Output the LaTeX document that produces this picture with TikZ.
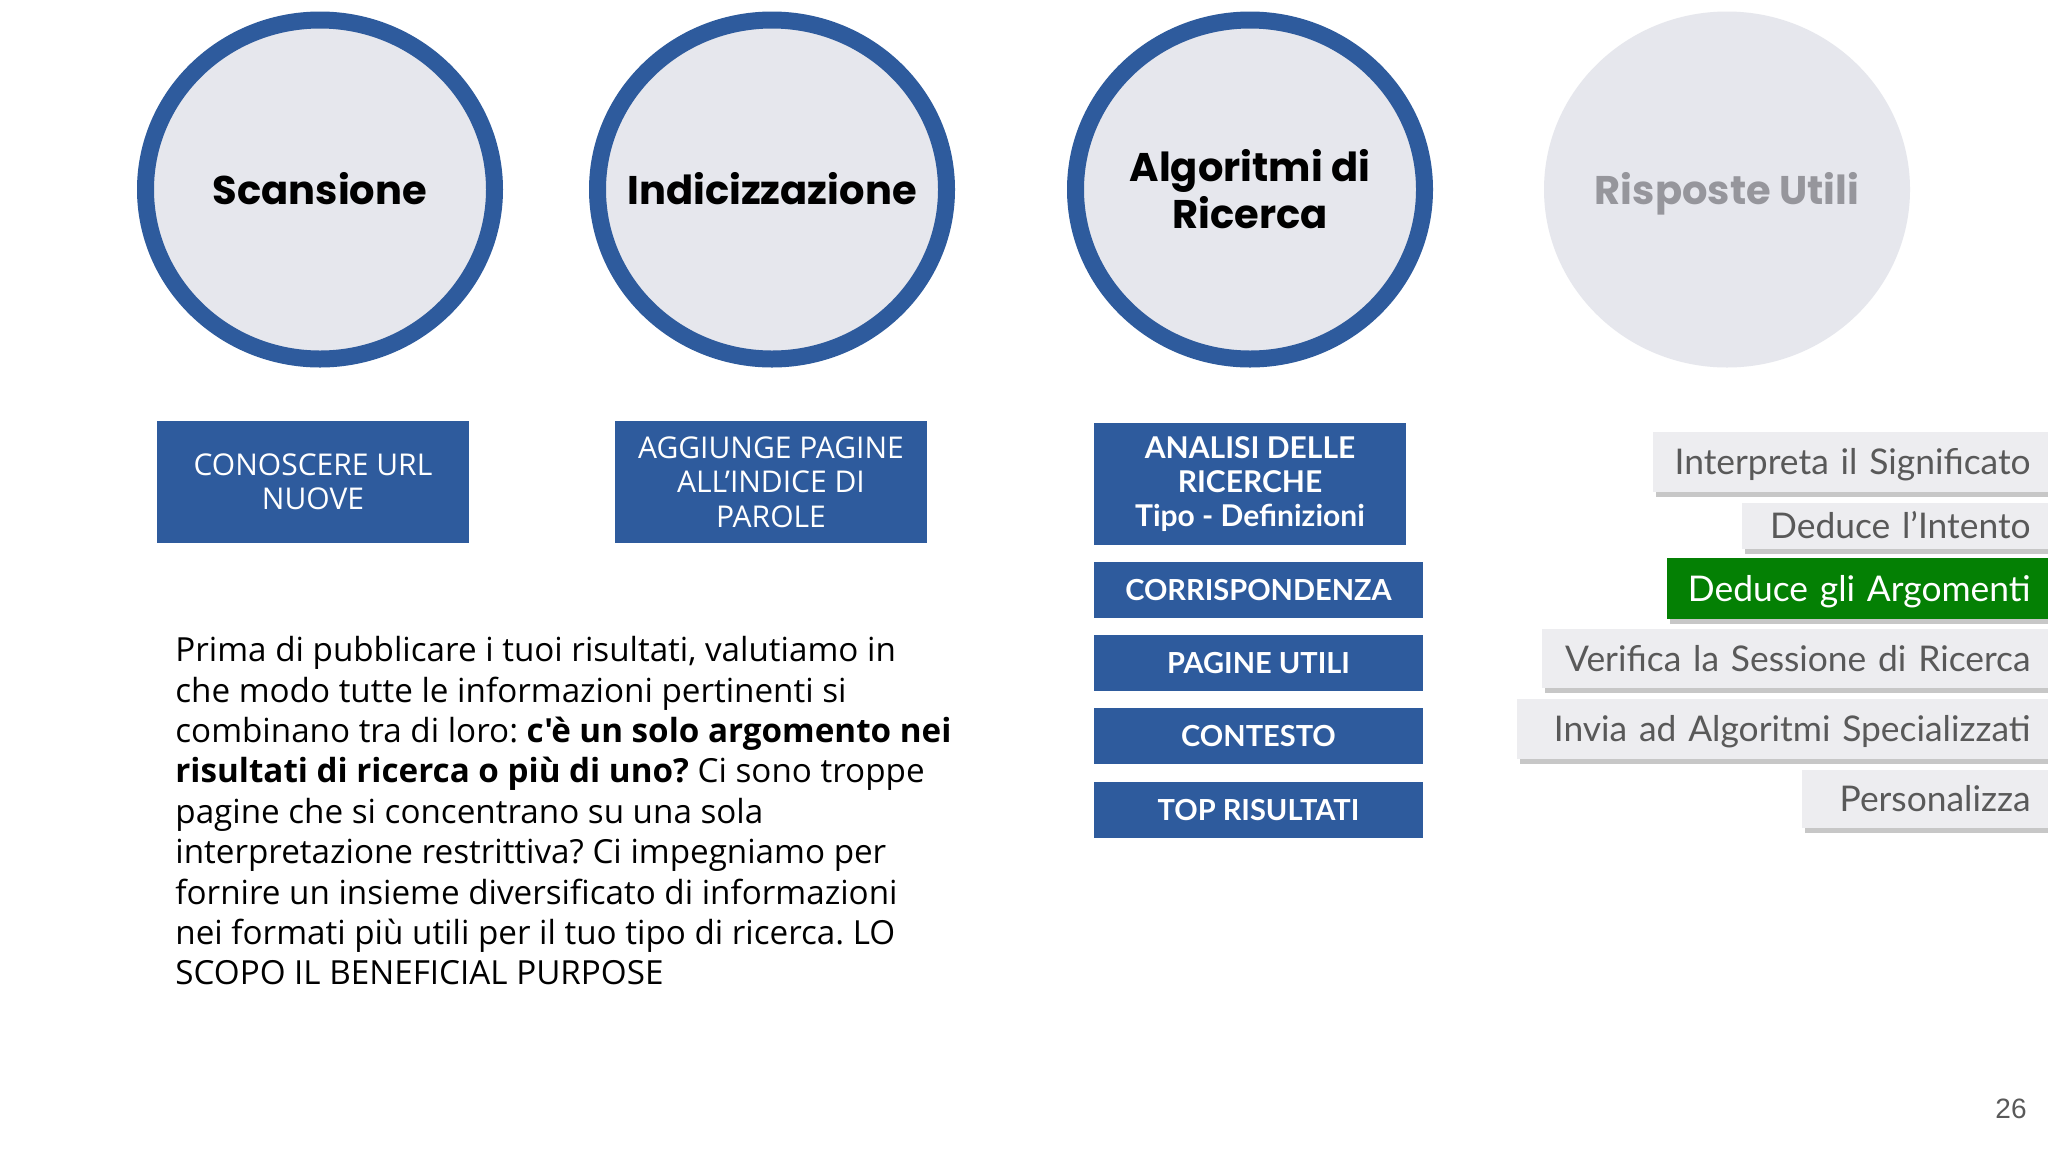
\documentclass[tikz,border=0pt]{standalone}
\usepackage{fontspec}
\setmainfont{Lato}
\newfontfamily\pop{Poppins}
\newfontfamily\osans{Open Sans}
\newfontfamily\arialf{Liberation Sans}
\usetikzlibrary{shapes.geometric,shadows}
\frenchspacing
\definecolor{blueC}{RGB}{46,91,157}
\definecolor{lightC}{RGB}{230,231,237}
\definecolor{grayBox}{RGB}{237,237,240}
\definecolor{grayText}{RGB}{89,89,89}
\definecolor{greenC}{RGB}{4,128,4}
\definecolor{fadedText}{RGB}{150,150,156}
\begin{document}
\begin{tikzpicture}[x=0.5pt,y=-0.5pt,
  ring/.style={ellipse, draw=blueC, line width=8.5pt, fill=lightC,
    minimum width=174.5pt, minimum height=169.5pt, inner sep=0pt},
  plainring/.style={ellipse, fill=lightC, minimum width=183pt, minimum height=178pt,
    inner sep=0pt},
  circtext/.style={inner sep=0pt, align=center,
    font=\pop\bfseries\fontsize{20}{23.5}\selectfont},
  bigbox/.style={rectangle, fill=blueC, text=white, inner sep=0pt, align=center,
    minimum width=156pt, minimum height=61pt},
  osbox/.style={bigbox, font=\osans\fontsize{15}{17.2}\selectfont},
  ltbox/.style={bigbox, font=\bfseries\fontsize{15}{17}\selectfont},
  smallbox/.style={rectangle, fill=blueC, text=white, inner sep=0pt, align=center,
    minimum width=164.5pt, minimum height=28pt, font=\bfseries\fontsize{14.5}{17}\selectfont},
  rbox/.style={rectangle, fill=grayBox, text=grayText, inner xsep=8.5pt, inner ysep=0pt,
    align=right, anchor=east, font=\fontsize{17.7}{20}\selectfont,
    text height=12.5pt, text depth=0pt,
    drop shadow={shadow xshift=1.5pt, shadow yshift=-2.5pt, fill=black, opacity=0.22}},
  greenbox/.style={rbox, fill=greenC, text=white}
]
\useasboundingbox (0,0) rectangle (2048,1152);
\fill[white] (0,0) rectangle (2048,1152);

% circles
\node[ring] (c1) at (320,189.5) {};
\node[ring] (c2) at (772,189.5) {};
\node[ring] (c3) at (1250,189.5) {};
\node[plainring] (c4) at (1727,189.5) {};
\node[circtext, anchor=base] (t1) at (320,204) {Scansione};
\node[circtext, anchor=base] (t2) at (772,204) {Indicizzazione};
\node[circtext] (t3) at (c3) {Algoritmi di\\Ricerca};
\node[circtext, anchor=base, text=fadedText] (t4) at (1727,204) {Risposte Utili};

% blue boxes
\node[osbox] (b1) at (313,482) {CONOSCERE URL\\NUOVE};
\node[osbox] (b2) at (771,482) {AGGIUNGE PAGINE\\ALL’INDICE DI\\PAROLE};
\node[ltbox] (b3) at (1250,484) {ANALISI DELLE\\RICERCHE\\Tipo - Definizioni};
\node[smallbox] (b4) at (1258.5,590) {CORRISPONDENZA};
\node[smallbox] (b5) at (1258.5,663) {PAGINE UTILI};
\node[smallbox] (b6) at (1258.5,736) {CONTESTO};
\node[smallbox] (b7) at (1258.5,809.5) {TOP RISULTATI};

% body text
\node[anchor=north west, inner sep=0pt, align=left, text=black,
      font=\osans\fontsize{16.6}{20.2}\selectfont] (body) at (175,636)
{Prima di pubblicare i tuoi risultati, valutiamo in\\
che modo tutte le informazioni pertinenti si\\
combinano tra di loro: \textbf{c'è un solo argomento nei}\\
\textbf{risultati di ricerca o più di uno?} Ci sono troppe\\
pagine che si concentrano su una sola\\
interpretazione restrittiva? Ci impegniamo per\\
fornire un insieme diversificato di informazioni\\
nei formati più utili per il tuo tipo di ricerca. LO\\
SCOPO IL BENEFICIAL PURPOSE};

% right boxes
\node[rbox, text width=180.5pt, minimum height=30pt] (r1) at (2048,462) {\mbox{Interpreta il Significato}};
\node[rbox, text width=136pt, minimum height=23pt] (r2) at (2048,526) {\mbox{Deduce l’Intento}};
\node[greenbox, text width=173.5pt, minimum height=30.5pt] (r3) at (2048,588.5) {\mbox{Deduce gli Argomenti}};
\node[rbox, text width=236pt, minimum height=29.5pt] (r4) at (2048,658.5) {\mbox{Verifica la Sessione di Ricerca}};
\node[rbox, text width=248.5pt, minimum height=30pt] (r5) at (2048,729) {\mbox{Invia ad Algoritmi Specializzati}};
\node[rbox, text width=106pt, minimum height=29pt] (r6) at (2048,799) {\mbox{Personalizza}};

% page number
\node[anchor=base east, inner sep=0pt, text=grayText, font=\arialf\fontsize{14}{16}\selectfont] (pnum) at (2027,1118) {26};
\end{tikzpicture}
\end{document}
